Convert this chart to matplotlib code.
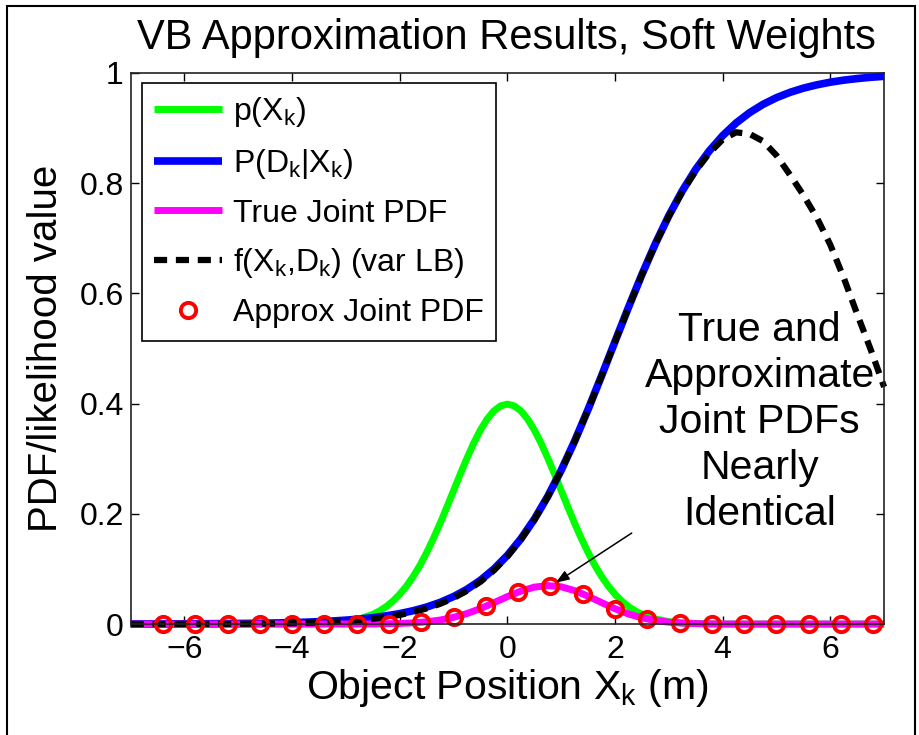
import numpy as np
import matplotlib
matplotlib.use("Agg")
import matplotlib.pyplot as plt
from matplotlib.patches import Rectangle

plt.rcParams['font.family'] = ['Liberation Sans', 'DejaVu Sans']
plt.rcParams['mathtext.fontset'] = 'custom'
plt.rcParams['mathtext.rm'] = 'Liberation Sans'
plt.rcParams['axes.unicode_minus'] = True

# Object position grid (m)
x_pos = np.arange(-7.0, 7.0001, 0.25)

# Prior p(X_k), sampled more densely around its peak
x_prior = np.concatenate([np.arange(-7.0, -2.6, 0.25),
                          np.arange(-2.5, 2.5001, 0.125),
                          np.arange(2.75, 7.0001, 0.25)])
prior_pdf = [
    0, 0, 0, 0, 0, 0, 0, 0, 0, 0, 0, 0,
    0.0001, 0.0004, 0.0009, 0.0020, 0.0044, 0.0091,
    0.0175, 0.0238, 0.0317, 0.0417, 0.0540, 0.0688, 0.0863, 0.1064,
    0.1295, 0.1551, 0.1826, 0.2119, 0.2420, 0.2721, 0.3011, 0.3282,
    0.3521, 0.3719, 0.3867, 0.3958,
    0.3989,
    0.3958, 0.3867, 0.3719, 0.3521, 0.3282, 0.3011, 0.2721, 0.2420,
    0.2119, 0.1826, 0.1551, 0.1295, 0.1064, 0.0863, 0.0688, 0.0540,
    0.0417, 0.0317, 0.0238, 0.0175,
    0.0091, 0.0044, 0.0020, 0.0009, 0.0004, 0.0001,
    0, 0, 0, 0, 0, 0, 0, 0, 0, 0, 0, 0,
]

# Detection likelihood P(D_k | X_k)
det_lik = [
    0.0001, 0.0002, 0.0002, 0.0003, 0.0004, 0.0005, 0.0006, 0.0008,
    0.0010, 0.0012, 0.0016, 0.0020, 0.0026, 0.0033, 0.0043, 0.0055,
    0.0070, 0.0090, 0.0115, 0.0148, 0.0189, 0.0241, 0.0308, 0.0392,
    0.0498, 0.0630, 0.0794, 0.0998, 0.1245, 0.1545, 0.1900, 0.2315,
    0.2789, 0.3318, 0.3894, 0.4502, 0.5125, 0.5744, 0.6341, 0.6900,
    0.7408, 0.7858, 0.8249, 0.8581, 0.8859, 0.9089, 0.9276, 0.9427,
    0.9548, 0.9644, 0.9721, 0.9781, 0.9829, 0.9866, 0.9895, 0.9918,
    0.9936,
]

# True joint PDF p(X_k) P(D_k | X_k)
true_joint = [
    0, 0, 0, 0, 0, 0, 0, 0, 0, 0, 0, 0, 0, 0, 0, 0,
    0.0000, 0.0001, 0.0002, 0.0005, 0.0010, 0.0021, 0.0040, 0.0072,
    0.0121, 0.0190, 0.0280, 0.0386, 0.0497, 0.0597, 0.0669, 0.0697,
    0.0675, 0.0606, 0.0504, 0.0389, 0.0277, 0.0182, 0.0111, 0.0063,
    0.0033, 0.0016, 0.0007, 0.0003, 0.0001,
    0, 0, 0, 0, 0, 0, 0, 0, 0, 0, 0, 0,
]

# Variational lower bound f(X_k, D_k)
var_lb = [
    0.0000, 0.0000, 0.0000, 0.0001, 0.0001, 0.0001, 0.0002, 0.0003,
    0.0004, 0.0006, 0.0008, 0.0011, 0.0015, 0.0021, 0.0029, 0.0039,
    0.0052, 0.0070, 0.0094, 0.0125, 0.0165, 0.0217, 0.0283, 0.0366,
    0.0471, 0.0603, 0.0767, 0.0973, 0.1225, 0.1530, 0.1890, 0.2310,
    0.2786, 0.3316, 0.3892, 0.4500, 0.5122, 0.5740, 0.6336, 0.6893,
    0.7398, 0.7842, 0.8222, 0.8540, 0.8790, 0.8920, 0.8890, 0.8760,
    0.8500, 0.8150, 0.7780, 0.7370, 0.6880, 0.6280, 0.5620, 0.4980,
    0.4300,
]

# Approximate joint PDF (sampled)
x_approx = [-6.4, -5.8, -5.2, -4.6, -4.0, -3.4, -2.8, -2.2, -1.6, -1.0,
            -0.4, 0.2, 0.8, 1.4, 2.0, 2.6, 3.2, 3.8, 4.4, 5.0, 5.6, 6.2, 6.8]
approx_joint = [0, 0, 0, 0, 0, 0, 0.0001, 0.0006, 0.0031, 0.0121,
                0.0321, 0.0579, 0.0697, 0.0548, 0.0277, 0.0089, 0.0018,
                0.0003, 0, 0, 0, 0, 0]

x_ticks = [-6, -4, -2, 0, 2, 4, 6]
y_ticks = [0, 0.2, 0.4, 0.6, 0.8, 1.0]
y_tick_labels = ['0', '0.2', '0.4', '0.6', '0.8', '1']

fig = plt.figure(figsize=(9.2, 7.35), dpi=100)
ax = fig.add_axes([0.142, 0.151, 0.819, 0.750])

l1, = ax.plot(x_prior, prior_pdf, color=(0, 1, 0), lw=5, clip_on=False,
              solid_capstyle='butt', solid_joinstyle='round',
              label='p(X$_\\mathregular{k}$)')
l2, = ax.plot(x_pos, det_lik, color=(0, 0, 1), lw=5.5, clip_on=False,
              solid_capstyle='butt', solid_joinstyle='round',
              label='P(D$_\\mathregular{k}$|X$_\\mathregular{k}$)')
l3, = ax.plot(x_pos, true_joint, color=(1, 0, 1), lw=5, clip_on=False,
              solid_capstyle='butt', solid_joinstyle='round',
              label='True Joint PDF')
l4, = ax.plot(x_pos, var_lb, color='black', lw=4.5, clip_on=False,
              dash_capstyle='butt',
              label='f(X$_\\mathregular{k}$,D$_\\mathregular{k}$) (var LB)')
l4.set_dashes((2.1, 1.4))
l5, = ax.plot(x_approx, approx_joint, linestyle='none', marker='o',
              ms=11, mew=2.8, mfc='none', mec=(1, 0, 0), clip_on=False,
              label='Approx Joint PDF')

ax.set_xlim(-7, 7)
ax.set_ylim(0, 1)
ax.set_xticks(x_ticks)
ax.set_yticks(y_ticks)
ax.set_yticklabels(y_tick_labels)
ax.tick_params(direction='in', top=True, right=True, length=6, width=1.0,
               labelsize=23, colors='black')
ax.tick_params(axis='x', pad=8)
ax.tick_params(axis='y', pad=5)
for sp in ax.spines.values():
    sp.set_linewidth(1.2)
    sp.set_color('#222222')

ax.set_xlabel('Object Position X$_\\mathregular{k}$ (m)', fontsize=29.5,
              labelpad=1)
ax.set_ylabel('PDF/likelihood value', fontsize=29, labelpad=10)
fig.text(0.551, 0.934, 'VB Approximation Results, Soft Weights',
         ha='center', va='baseline', fontsize=30)

leg = ax.legend(handles=[l1, l2, l3, l4, l5], loc='upper left',
                bbox_to_anchor=(0.0146, 0.982), borderaxespad=0,
                fontsize=23, frameon=True, fancybox=False, framealpha=1,
                edgecolor='black', handlelength=2.1, handletextpad=0.35,
                labelspacing=0.55, borderpad=0.4)
leg.get_frame().set_linewidth(1.2)

ax.text(4.69, 0.367, 'True and\nApproximate\nJoint PDFs\nNearly\nIdentical',
        ha='center', va='center', fontsize=29.5, linespacing=1.27)
ax.annotate('', xy=(0.9, 0.075), xytext=(2.31, 0.165),
            arrowprops=dict(arrowstyle='-|>,head_length=0.8,head_width=0.3',
                            color='black', lw=1.1, shrinkA=0, shrinkB=0))

fig.add_artist(Rectangle((0.008, -0.02), 0.987, 1.012,
                         transform=fig.transFigure, fill=False,
                         edgecolor='black', lw=1.5))

fig.savefig('out.png', dpi=100)
